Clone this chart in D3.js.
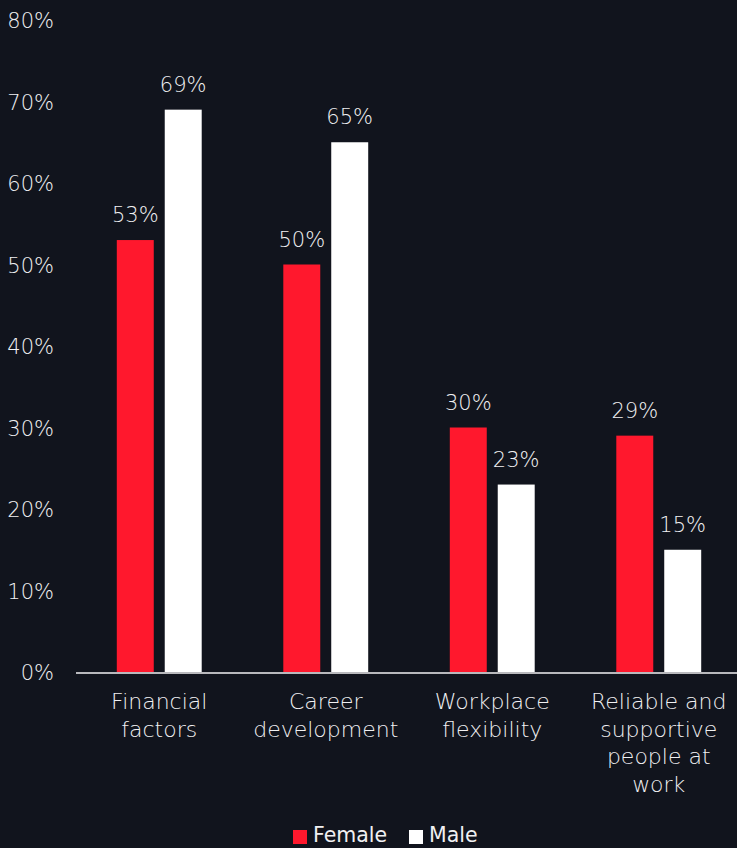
<!DOCTYPE html>
<html>
<head>
<meta charset="utf-8">
<script src="https://cdn.jsdelivr.net/npm/d3@7"></script>
<style>
  html, body { margin: 0; padding: 0; background: #11141d; }
  svg { display: block; }
</style>
</head>
<body>
<svg id="chart" width="737" height="848"></svg>
<script>
// Reasons by gender
const categories = [
  ["Financial", "factors"],
  ["Career", "development"],
  ["Workplace", "flexibility"],
  ["Reliable and", "supportive", "people at", "work"]
];
const seriesNames = ["Female", "Male"];
const female = [53, 50, 30, 29];
const male = [69, 65, 23, 15];
const yTicks = [0, 10, 20, 30, 40, 50, 60, 70, 80];

const colors = { Female: "#ff182d", Male: "#ffffff" };
const textColor = "#f0f0f2";
const font = "'DejaVu Sans', sans-serif";

const svg = d3.select("#chart");
const W = 737, H = 848;
svg.append("rect").attr("width", W).attr("height", H).attr("fill", "#11141d");

const keys = categories.map((c, i) => i);
const x0 = d3.scaleBand().domain(keys).range([76, 742]).paddingInner(0.49).paddingOuter(0.245);
const x1 = d3.scaleBand().domain(seriesNames).range([0, x0.bandwidth()]).paddingInner(0.229);
const y = d3.scaleLinear().domain([0, 80]).range([672, 20]);

// y-axis labels
const yAxis = d3.axisLeft(y).tickValues(yTicks).tickFormat(d => d + "%").tickSize(0).tickPadding(0);
const ya = svg.append("g").attr("transform", "translate(54,0)").call(yAxis);
ya.select(".domain").remove();
ya.selectAll("text")
  .attr("fill", textColor)
  .attr("font-family", font)
  .attr("font-weight", 200)
  .attr("font-size", 21)
  .attr("dy", "0.36em");

// bars
const data = keys.map(i => ({ i, Female: female[i], Male: male[i] }));
const groups = svg.append("g").selectAll("g").data(data).join("g")
  .attr("transform", d => `translate(${x0(d.i)},0)`);

groups.selectAll("rect")
  .data(d => seriesNames.map(k => ({ k, v: d[k] })))
  .join("rect")
  .attr("x", d => x1(d.k))
  .attr("y", d => y(d.v))
  .attr("width", x1.bandwidth())
  .attr("height", d => y(0) - y(d.v))
  .attr("fill", d => colors[d.k]);

groups.selectAll("text.val")
  .data(d => seriesNames.map(k => ({ k, v: d[k] })))
  .join("text")
  .attr("class", "val")
  .attr("x", d => x1(d.k) + x1.bandwidth() / 2)
  .attr("y", d => y(d.v) - 18)
  .attr("text-anchor", "middle")
  .attr("fill", textColor)
  .attr("font-family", font)
  .attr("font-weight", 200)
  .attr("font-size", 21)
  .text(d => d.v + "%");

// baseline
svg.append("line")
  .attr("x1", 76).attr("x2", W)
  .attr("y1", y(0) + 1).attr("y2", y(0) + 1)
  .attr("stroke", "#b9b9bd").attr("stroke-width", 2);

// category labels
const xl = svg.append("g").selectAll("text").data(keys).join("text")
  .attr("x", i => x0(i) + x0.bandwidth() / 2)
  .attr("y", 709)
  .attr("text-anchor", "middle")
  .attr("fill", textColor)
  .attr("font-family", font)
  .attr("font-weight", 200)
  .attr("font-size", 22);
xl.selectAll("tspan").data(i => categories[i]).join("tspan")
  .attr("x", function () { return d3.select(this.parentNode).attr("x"); })
  .attr("dy", (d, j) => j === 0 ? 0 : 27.5)
  .text(d => d);

// legend
const legend = svg.append("g").attr("transform", "translate(293,0)");
const legendX = [0, 116];
seriesNames.forEach((name, j) => {
  const g = legend.append("g").attr("transform", `translate(${legendX[j]},0)`);
  g.append("rect").attr("x", 0).attr("y", 830).attr("width", 14).attr("height", 14).attr("fill", colors[name]);
  g.append("text").attr("x", 20).attr("y", 842)
    .attr("fill", textColor)
    .attr("font-family", "'DejaVu Sans', sans-serif")
    .attr("font-size", 20.5)
    .text(name);
});
</script>
</body>
</html>
